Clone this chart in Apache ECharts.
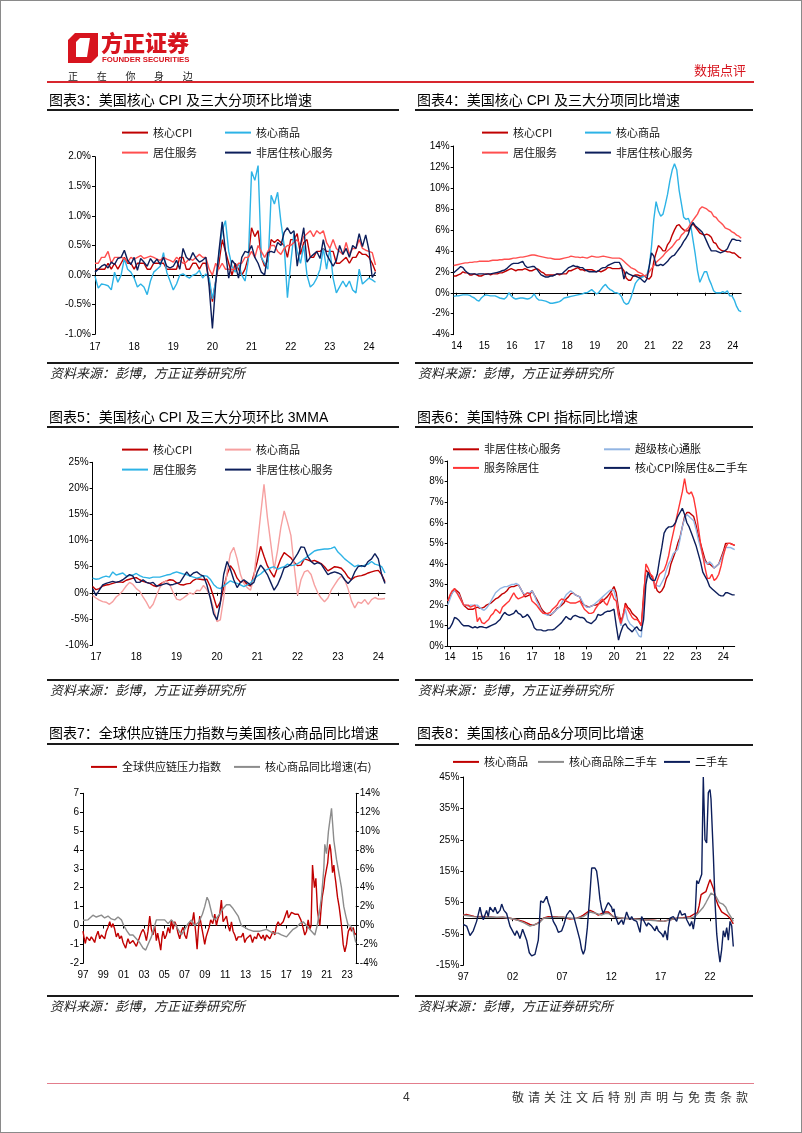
<!DOCTYPE html>
<html><head><meta charset="utf-8">
<script src="https://cdn.jsdelivr.net/npm/echarts@6/dist/echarts.min.js"></script>
<style>
html,body{margin:0;padding:0;background:#fff;}
#page{position:relative;width:802px;height:1133px;overflow:hidden;background:#fff;}
#chart{position:absolute;left:0;top:0;width:802px;height:1133px;}
.t{position:absolute;white-space:nowrap;font-family:"Liberation Sans","Noto Sans CJK SC",sans-serif;color:#000;z-index:5;}
.title{font-size:14px;line-height:18px;}
.src{font-size:13px;line-height:18px;font-style:italic;color:#222;font-family:"Noto Sans CJK SC",sans-serif;}
.ln{position:absolute;z-index:5;}
</style></head>
<body><div id="page">
<div id="chart"></div>

<!-- header -->
<svg class="ln" style="left:66px;top:31px" width="34" height="34" viewBox="0 0 34 34">
  <polygon points="2,9 9,2 32,2 32,25 25,32 2,32" fill="#D7141E"/>
  <polygon points="10,11 14,7 24,7 21,26 10,26" fill="#fff"/>
</svg>
<div class="t" style="left:101px;top:29px;font-size:22px;line-height:24px;font-weight:900;color:#D7141E;font-family:'Noto Sans CJK SC',sans-serif;">方正证券</div>
<div class="t" style="left:102px;top:55px;font-size:7.8px;line-height:9px;font-weight:bold;color:#D7141E;">FOUNDER SECURITIES</div>
<div class="t" style="left:68px;top:70px;font-size:10px;line-height:12px;letter-spacing:18.7px;color:#222;font-family:'Noto Sans CJK SC',sans-serif;">正在你身边</div>
<div class="t" style="left:694px;top:62px;font-size:13px;line-height:16px;color:#D7141E;font-family:'Noto Sans CJK SC',sans-serif;">数据点评</div>
<div class="ln" style="left:47px;top:81px;width:707px;height:1.5px;background:#D8262E;"></div>

<!-- row 1 -->
<div class="t title" style="left:49px;top:91px;">图表3：美国核心 CPI 及三大分项环比增速</div>
<div class="t title" style="left:417px;top:91px;">图表4：美国核心 CPI 及三大分项同比增速</div>
<div class="ln" style="left:47px;top:109px;width:352px;height:1.6px;background:#1a1a1a;"></div>
<div class="ln" style="left:415px;top:109px;width:338px;height:1.6px;background:#1a1a1a;"></div>
<div class="ln" style="left:47px;top:362px;width:352px;height:1.6px;background:#1a1a1a;"></div>
<div class="ln" style="left:415px;top:362px;width:338px;height:1.6px;background:#1a1a1a;"></div>
<div class="t src" style="left:50px;top:364px;">资料来源：彭博，方正证券研究所</div>
<div class="t src" style="left:418px;top:364px;">资料来源：彭博，方正证券研究所</div>

<!-- row 2 -->
<div class="t title" style="left:49px;top:408px;">图表5：美国核心 CPI 及三大分项环比 3MMA</div>
<div class="t title" style="left:417px;top:408px;">图表6：美国特殊 CPI 指标同比增速</div>
<div class="ln" style="left:47px;top:426px;width:352px;height:1.6px;background:#1a1a1a;"></div>
<div class="ln" style="left:415px;top:426px;width:338px;height:1.6px;background:#1a1a1a;"></div>
<div class="ln" style="left:47px;top:679px;width:352px;height:1.6px;background:#1a1a1a;"></div>
<div class="ln" style="left:415px;top:679px;width:338px;height:1.6px;background:#1a1a1a;"></div>
<div class="t src" style="left:50px;top:681px;">资料来源：彭博，方正证券研究所</div>
<div class="t src" style="left:418px;top:681px;">资料来源：彭博，方正证券研究所</div>

<!-- row 3 -->
<div class="t title" style="left:49px;top:724px;">图表7：全球供应链压力指数与美国核心商品同比增速</div>
<div class="t title" style="left:417px;top:724px;">图表8：美国核心商品&amp;分项同比增速</div>
<div class="ln" style="left:47px;top:743px;width:352px;height:1.6px;background:#1a1a1a;"></div>
<div class="ln" style="left:415px;top:744px;width:338px;height:1.6px;background:#1a1a1a;"></div>
<div class="ln" style="left:47px;top:995px;width:352px;height:1.6px;background:#1a1a1a;"></div>
<div class="ln" style="left:415px;top:995px;width:338px;height:1.6px;background:#1a1a1a;"></div>
<div class="t src" style="left:50px;top:997px;">资料来源：彭博，方正证券研究所</div>
<div class="t src" style="left:418px;top:997px;">资料来源：彭博，方正证券研究所</div>

<!-- footer -->
<div class="ln" style="left:47px;top:1083px;width:707px;height:1px;background:#E37D8C;"></div>
<div class="t" style="left:403px;top:1090px;font-size:12px;line-height:14px;color:#333;">4</div>
<div class="t" style="left:512px;top:1090px;font-size:12px;line-height:14px;letter-spacing:4px;color:#333;font-family:'Noto Sans CJK SC',sans-serif;">敬请关注文后特别声明与免责条款</div>
<div class="ln" style="left:0;top:0;width:802px;height:1133px;box-sizing:border-box;border:1px solid #8a8a8a;"></div>
</div>
<script>
// ---------------- data ----------------
// Chart 3: MoM %, monthly from first label position
const c3_start = 2017;
const c3_ticks = [2017,2018,2019,2020,2021,2022,2023,2024];
const c3_core = [0.1,0.1,0.1,0.1,0.2,0.1,0.2,0.1,0.2, 0.3,0.2,0.2,0.1,0.2,0.2,0.2,0.1,0.1,0.2,0.2,0.2, 0.2,0.1,0.1,0.1,0.1,0.3,0.3,0.1,0.1,0.2,0.2,0.1, 0.2,0.2,-0.1,-0.45,-0.1,0.2,0.6,0.4,0.2,0.0,0.2,0.1, 0.0,0.1,0.3,0.8,0.65,0.75,0.3,0.15,0.25,0.6,0.55,0.6, 0.55,0.5,0.3,0.6,0.6,0.7,0.35,0.55,0.6,0.3,0.3,0.4, 0.4,0.45,0.4,0.4,0.4,0.2,0.2,0.25,0.3,0.2,0.3,0.3, 0.4,0.35,0.35,0.3,0.2,0.06];
const c3_goods = [-0.02,-0.22,-0.15,-0.16,-0.18,-0.25,0.05,-0.12,0.0, 0.28,0.1,0.05,-0.05,-0.2,-0.15,-0.2,-0.33,-0.1,0.05,0.1,0.15, 0.38,0.05,-0.1,-0.25,-0.15,0.0,0.02,-0.02,-0.05,0.0,0.02,0.08, -0.05,0.02,-0.05,-0.4,-0.1,0.35,0.75,0.92,0.4,0.15,0.05,0.2, 0.0,-0.1,0.25,1.75,1.6,1.85,0.3,0.2,0.1,1.35,1.2,1.4, 0.9,0.5,-0.38,0.2,0.7,0.4,0.2,0.5,0.0,-0.2,-0.15,-0.05, 0.1,0.45,0.1,0.45,-0.05,-0.3,-0.2,-0.1,-0.2,-0.1,-0.25,-0.3, 0.1,-0.15,-0.1,-0.05,-0.08,-0.12];
const c3_shelter = [0.2,0.2,0.3,0.3,0.4,0.2,0.3,0.3,0.3, 0.28,0.22,0.3,0.27,0.3,0.33,0.28,0.3,0.32,0.3,0.27,0.25, 0.3,0.27,0.25,0.22,0.3,0.25,0.2,0.22,0.28,0.25,0.3,0.35, 0.3,0.3,0.1,0.0,0.2,0.1,0.2,0.1,0.1,0.1,0.1,0.2, 0.2,0.3,0.3,0.4,0.3,0.5,0.4,0.3,0.4,0.5,0.5,0.4, 0.35,0.45,0.5,0.5,0.55,0.6,0.5,0.65,0.7,0.75,0.65,0.75, 0.7,0.75,0.55,0.45,0.6,0.45,0.4,0.35,0.55,0.35,0.45,0.45, 0.6,0.45,0.42,0.4,0.38,0.17];
const c3_super = [0.05,0.1,0.15,0.18,0.12,0.22,0.18,0.28,0.3, 0.42,0.25,0.18,0.3,0.08,0.28,0.22,0.15,0.28,0.2,0.27,0.18, 0.3,0.15,0.12,0.15,0.25,0.1,0.45,0.3,0.25,0.38,0.28,0.22, 0.25,0.3,-0.2,-0.9,-0.15,0.4,0.9,0.4,-0.05,0.25,0.18,-0.05, 0.3,0.4,0.38,0.5,0.3,0.2,0.05,0.0,0.38,0.4,0.38,0.55, 0.5,0.72,0.8,0.7,0.75,0.15,0.5,0.8,0.22,0.3,0.35,0.4, 0.28,0.6,0.35,0.25,0.15,0.25,0.5,0.35,0.45,0.3,0.5,0.45, 0.7,0.48,0.68,0.42,-0.04,0.05];

// Chart 4: YoY %, monthly
const c4_start = 2013.89;
const c4_ticks = [2014,2015,2016,2017,2018,2019,2020,2021,2022,2023,2024];
const c4_core = [1.6,1.6,1.7,1.8,2.0,1.9,1.9,1.7,1.7,1.8,1.7,1.6, 1.6,1.7,1.8,1.8,1.7,1.8,1.8,1.8,1.9,1.9,2.0,2.1, 2.2,2.3,2.2,2.1,2.2,2.2,2.2,2.3,2.2,2.1,2.1,2.2, 2.3,2.2,2.0,1.9,1.7,1.7,1.7,1.7,1.7,1.8,1.7,1.8, 1.8,1.8,2.1,2.1,2.2,2.3,2.4,2.2,2.2,2.1,2.2,2.2, 2.2,2.1,2.0,2.1,2.0,2.1,2.2,2.4,2.4,2.3,2.3,2.3, 2.3,2.4,2.1,1.4,1.2,1.2,1.6,1.7,1.7,1.6,1.6,1.6, 1.4,1.3,1.6,3.0,3.8,4.5,4.3,4.0,4.0,4.6,4.9,5.5, 6.0,6.4,6.5,6.2,6.0,5.9,5.9,6.3,6.6,6.3,6.0,5.7, 5.6,5.5,5.6,5.5,5.3,4.8,4.7,4.3,4.1,4.0,4.0,3.9, 3.9,3.8,3.8,3.6,3.4,3.3];
const c4_goods = [-0.35,-0.3,-0.3,-0.25,-0.2,-0.2,-0.2,-0.25,-0.4,-0.5,-0.7,-0.8, -0.5,-0.3,-0.2,-0.25,-0.3,-0.3,-0.3,-0.4,-0.5,-0.55,-0.6,-0.4, 0.0,-0.3,-0.5,-0.6,-0.55,-0.5,-0.5,-0.55,-0.6,-0.55,-0.4,-0.1, -0.5,-0.7,-0.7,-0.75,-0.8,-0.9,-1.0,-1.0,-0.95,-0.9,-0.85,-0.7, -0.5,-0.45,-0.4,-0.35,-0.3,-0.25,-0.2,-0.15,-0.1,0.0,0.0,0.15, 0.3,0.1,-0.1,0.0,0.3,0.6,0.8,0.5,0.3,0.2,0.0,0.0, -0.1,-0.4,-0.9,-1.1,-1.0,-0.5,0.2,0.9,1.2,1.4,1.5,1.6, 1.7,2.5,4.4,7.0,8.7,7.8,7.3,7.5,8.4,9.4,10.7,11.7, 12.3,11.7,9.8,8.5,7.2,7.0,7.1,6.5,5.1,3.7,2.1,1.0, 1.5,2.0,2.0,1.3,0.8,0.2,0.0,0.0,0.0,0.1,0.0,0.2, -0.3,-0.3,-0.7,-1.3,-1.7,-1.8];
const c4_shelter = [2.6,2.65,2.7,2.75,2.8,2.85,2.85,2.9,2.9,2.95,2.95,3.0, 3.0,3.0,3.0,3.0,3.05,3.1,3.1,3.1,3.15,3.15,3.2,3.2, 3.2,3.25,3.3,3.3,3.35,3.4,3.4,3.45,3.5,3.55,3.6,3.6, 3.55,3.5,3.45,3.4,3.35,3.3,3.3,3.25,3.2,3.2,3.2,3.25, 3.3,3.35,3.4,3.5,3.45,3.4,3.4,3.35,3.4,3.35,3.3,3.4, 3.5,3.45,3.4,3.4,3.45,3.5,3.45,3.4,3.35,3.3,3.3,3.3, 3.3,3.2,3.0,2.8,2.6,2.4,2.3,2.2,2.0,1.9,1.8,1.6, 1.7,2.0,2.3,2.6,2.9,3.1,3.3,3.5,3.8,4.0,4.2,4.4, 4.7,5.0,5.1,5.5,5.7,6.0,6.2,6.6,6.9,7.2,7.5,8.0, 8.2,8.1,8.0,7.8,7.7,7.3,7.2,6.9,6.7,6.5,6.2,6.1, 6.0,5.8,5.7,5.5,5.4,5.2];
const c4_super = [1.9,2.1,2.3,2.5,2.4,2.1,1.9,1.8,1.8,1.8,1.75,1.8, 1.8,1.8,1.75,1.8,1.8,1.85,1.9,1.95,2.0,2.1,2.15,2.3, 2.5,2.7,2.8,2.8,2.8,2.9,3.0,2.6,2.4,2.45,2.5,2.5, 2.3,2.0,1.7,1.6,1.5,1.5,1.6,1.6,1.7,1.8,1.8,1.8, 2.0,2.2,2.4,2.5,2.6,2.5,2.5,2.4,2.4,2.2,2.1,2.0, 2.0,2.0,2.0,2.1,2.3,2.4,2.4,2.6,2.7,2.8,2.9,2.9, 2.9,2.5,1.3,2.0,1.8,1.7,1.6,1.6,1.5,1.4,1.2,1.0, 1.3,2.5,3.8,3.5,2.6,2.6,2.7,2.6,2.8,3.0,3.3,3.5, 3.6,3.9,4.2,4.5,4.9,5.2,5.6,6.3,6.7,6.4,6.2,6.0, 5.8,5.4,4.9,4.4,4.0,4.0,4.0,3.9,3.8,3.9,4.0,4.2, 4.7,5.1,5.1,5.0,5.0,4.9];

// Chart 5: 3MMA annualised %, monthly
const c5_start = 2016.917;
const c5_ticks = [2017,2018,2019,2020,2021,2022,2023,2024];
const c5_core = [1.2,0.6,0.8,1.3,1.5,1.6,1.8,2.0,2.1,2.0,2.4,2.6, 2.8,2.9,2.5,2.2,2.0,1.8,1.4,1.2,1.6,2.0,2.3,2.5, 2.4,1.9,1.6,1.5,1.7,1.8,2.4,2.7,2.6,2.5,2.6,1.2, -0.8,-2.9,-1.8,1.0,3.5,5.2,4.3,2.8,2.0,2.3,1.6,1.3, 3.5,6.0,8.9,7.0,5.2,4.0,3.0,4.8,6.5,7.7,7.2,6.7, 5.8,5.2,5.3,6.5,6.3,6.0,6.2,5.9,5.6,5.0,4.2,4.6, 5.0,4.9,4.7,4.0,3.0,2.5,3.0,3.2,3.3,3.5,3.8,4.0, 4.2,4.3,3.5,2.1];
const c5_goods = [-0.5,-1.0,-1.4,-1.7,-1.8,-2.2,-1.7,-0.8,-0.3,0.4,1.3,2.0, 1.6,0.8,0.3,-0.8,-1.8,-3.0,-2.2,-0.5,1.0,2.0,2.3,1.5, 0.0,-1.2,-1.4,-1.0,-0.5,0.0,-0.3,0.5,0.4,1.4,0.6,-0.8, -3.0,-5.5,-5.2,-1.0,4.0,7.5,8.7,6.5,3.5,1.8,1.0,0.5, 3.0,9.0,15.0,20.8,14.5,9.5,4.5,8.0,12.5,15.7,13.5,11.0, 5.0,-0.5,2.5,4.0,4.3,3.5,1.5,0.0,-1.0,-1.7,-1.0,0.5, 1.5,2.5,3.2,2.5,0.8,-1.5,-2.9,-1.8,-2.0,-1.3,-2.2,-1.3, -0.9,-1.2,-1.2,-1.1];
const c5_shelter = [2.8,2.6,2.7,3.0,3.2,3.0,4.0,3.4,3.6,3.8,3.2,3.3, 3.4,3.7,3.3,3.0,2.9,2.8,3.0,3.0,3.0,3.2,3.4,3.5, 3.8,4.0,3.8,3.6,3.5,3.2,3.0,2.8,3.0,3.3,3.2,2.6, 1.6,1.0,0.8,1.3,1.8,2.3,2.0,1.8,1.5,1.2,1.5,1.9, 2.6,3.2,3.6,4.2,4.5,4.8,5.0,4.5,4.8,5.0,5.5,5.2, 5.3,5.6,6.0,6.5,7.0,7.5,8.0,8.2,8.3,8.4,8.4,8.5, 8.8,7.8,7.2,6.5,6.0,5.5,5.0,5.3,5.0,5.3,5.5,6.0, 5.5,5.3,5.0,3.8];
const c5_super = [0.8,-0.5,0.5,1.5,1.8,2.0,2.2,2.0,2.2,2.5,3.0,3.5, 3.2,2.0,2.0,2.5,2.0,1.8,2.0,1.3,1.4,1.6,1.8,1.5, 1.6,1.8,2.0,3.0,4.0,3.2,3.8,4.0,3.5,3.2,1.5,-1.0, -4.0,-5.2,-2.0,3.5,6.0,4.5,2.5,1.0,2.0,2.5,2.0,1.5, 2.0,4.0,5.3,4.5,3.5,2.0,0.5,1.5,3.0,4.8,5.0,5.5, 6.5,7.5,8.8,8.7,7.0,6.0,5.5,5.8,5.5,4.5,3.5,3.8, 4.0,3.8,3.5,2.5,1.8,2.5,4.0,5.0,5.2,5.0,6.0,6.5, 7.5,6.5,3.5,1.8];

// Chart 6: YoY %, monthly
const c6_start = 2013.917;
const c6_ticks = [2014,2015,2016,2017,2018,2019,2020,2021,2022,2023,2024];
const c6_nonShelter = [2.2,2.4,2.6,2.8,2.7,2.6, 2.3,2.0,1.9,1.8,1.8,1.8, 1.85,1.9,1.85,1.85,1.9,2.0, 2.05,2.1,2.2,2.3,2.35,2.45, 2.55,2.6,2.7,2.85,2.9,2.9, 2.95,3.0,2.8,2.6,2.4,2.45, 2.5,2.7,2.5,2.3,2.1,1.85, 1.7,1.6,1.55,1.5,1.6,1.7, 1.85,1.9,2.0,2.1,2.3,2.4, 2.55,2.6,2.5,2.45,2.4,2.1, 2.0,1.95,1.9,1.95,2.0,2.0, 2.05,2.1,2.2,2.3,2.4,2.55, 2.7,2.9,2.6,1.8,1.2,1.5, 2.1,1.9,1.8,1.6,1.5,1.4, 1.2,1.0,2.5,3.7,3.6,3.5, 3.3,3.0,2.7,2.6,2.7,2.9, 3.3,3.5,4.0,4.3,4.6,5.0, 5.3,5.8,6.3,6.5,6.5,6.4, 6.3,5.9,5.4,5.0,4.6,4.2, 4.0,4.0,3.9,3.8,3.9,4.0, 4.3,4.6,5.0,5.0,5.0,4.95,4.9];
const c6_supercore = [2.0,2.3,2.6,2.7,2.6,2.5, 2.2,2.0,2.0,1.95,2.0,2.0, 2.0,2.0,1.9,1.8,1.75,1.85, 2.0,2.2,2.4,2.6,2.7,2.8, 2.85,2.9,2.9,2.95,3.0,3.0, 3.05,3.0,2.8,2.6,2.5,2.6, 2.6,2.7,2.5,2.2,2.0,1.75, 1.6,1.55,1.5,1.55,1.6,1.7, 1.8,1.9,2.1,2.3,2.5,2.6, 2.7,2.6,2.5,2.45,2.4,2.2, 2.0,1.9,1.9,1.95,2.0,2.1, 2.2,2.3,2.4,2.5,2.6,2.7, 2.75,2.7,2.3,1.5,1.0,1.4, 1.8,1.3,1.1,1.0,0.9,0.7, 0.5,0.45,2.0,3.4,3.4,3.3, 3.2,3.0,2.95,2.9,3.1,3.3, 3.7,4.0,4.2,4.5,4.6,4.7, 5.2,5.8,6.2,6.4,6.3,6.2, 6.1,5.7,5.2,4.8,4.4,4.1, 4.0,4.1,4.0,3.8,3.9,4.0, 4.2,4.5,4.8,4.8,4.8,4.75,4.7];
const c6_servExShelter = [2.2,2.5,2.7,2.8,2.6,2.4, 2.2,2.0,2.0,2.0,1.9,1.95, 2.0,1.2,1.4,1.15,1.1,1.2, 1.3,1.5,1.6,1.8,1.7,1.6, 1.9,2.0,2.1,2.2,2.4,2.6, 2.4,2.3,2.35,2.4,2.5,2.6, 2.55,2.2,2.1,2.0,1.85,1.7, 1.6,1.6,1.6,1.65,1.8,1.9, 2.0,2.2,2.3,2.25,2.2,2.15, 2.1,2.1,2.1,2.15,2.2,2.0, 1.8,1.7,1.6,1.6,1.65,1.85, 2.0,2.2,2.3,2.1,2.0,2.3, 2.6,2.3,2.2,1.5,1.1,1.5, 2.0,1.8,1.6,1.4,1.3,1.3, 1.2,1.0,2.2,4.0,3.8,3.5, 3.4,2.8,3.2,3.5,3.6,3.7, 4.0,4.4,5.0,5.5,6.0,6.5, 7.0,7.5,8.15,7.5,7.4,7.5, 7.2,6.6,5.8,5.0,4.4,3.8, 3.3,3.3,3.5,3.2,3.3,3.5, 3.9,4.4,4.8,5.0,5.0,4.95,4.9];
const c6_coreExShelterCars = [0.85,0.9,1.1,1.4,1.35,1.25, 1.1,1.0,1.0,1.0,0.95,0.9, 0.95,0.9,0.95,0.95,0.92,0.9, 0.95,1.0,1.05,1.1,1.2,1.3, 1.5,1.65,1.55,1.5,1.55,1.6, 1.75,1.6,1.55,1.4,1.45,1.55, 1.4,1.2,0.9,0.8,0.8,0.8, 0.75,0.75,0.8,0.8,0.8,0.85, 0.95,1.05,1.15,1.3,1.45,1.35, 1.3,1.45,1.5,1.45,1.4,1.4, 1.35,1.2,1.15,1.1,1.2,1.3, 1.55,1.5,1.55,1.65,1.7,1.7, 1.75,1.8,1.0,0.3,0.7,1.0, 1.1,0.9,0.8,0.7,0.85,0.95, 0.8,0.75,1.3,3.0,3.6,3.3, 3.2,3.2,3.5,4.2,4.8,5.5, 5.7,5.8,5.8,5.85,6.0,6.3, 6.5,6.7,6.4,6.0,5.8,5.5, 5.2,4.9,4.5,4.1,3.6,3.4, 3.2,2.9,2.8,2.7,2.6,2.5, 2.45,2.45,2.6,2.6,2.55,2.5,2.5];

// Chart 7: [year, value] — GSCPI (left, std dev) and core goods YoY (right, %)
const c7_ticks = [1997,1999,2001,2003,2005,2007,2009,2011,2013,2015,2017,2019,2021,2023];
const c7_gscpi = [[1997.00,-0.3],[1997.12,-0.7],[1997.23,-0.95],[1997.36,-0.6],[1997.49,-0.5],[1997.65,-0.8],[1997.82,-0.6],[1998.0,-0.75],[1998.15,-0.9],[1998.3,-0.55],[1998.48,-0.3],[1998.65,-0.7],[1998.81,-0.5],[1998.97,-0.45],[1999.13,-0.7],[1999.30,-0.3],[1999.46,-0.1],[1999.63,0.2],[1999.8,-0.1],[1999.95,0.1],[2000.12,-0.2],[2000.28,-0.6],[2000.45,-0.4],[2000.61,-0.7],[2000.78,-0.55],[2000.94,-0.9],[2001.07,-0.8],[2001.20,-1.2],[2001.32,-0.9],[2001.43,-0.7],[2001.6,-0.95],[2001.76,-1.0],[2001.92,-0.8],[2002.09,-0.9],[2002.25,-1.1],[2002.42,-0.85],[2002.58,-0.6],[2002.75,-0.35],[2002.91,-0.2],[2003.07,-0.4],[2003.24,-0.8],[2003.4,-0.3],[2003.57,0.5],[2003.73,-0.2],[2003.89,-0.5],[2004.06,0.0],[2004.22,-0.8],[2004.35,-0.4],[2004.45,-0.5],[2004.65,-1.3],[2004.78,-0.6],[2004.88,-0.3],[2005.05,-0.7],[2005.21,-0.5],[2005.38,-0.1],[2005.54,-0.4],[2005.70,0.3],[2005.86,-0.2],[2006.03,0.2],[2006.19,0.0],[2006.35,-0.4],[2006.52,-0.7],[2006.68,-0.3],[2006.85,-0.1],[2007.01,-0.5],[2007.18,-0.7],[2007.34,-0.2],[2007.51,0.2],[2007.7,0.0],[2007.90,0.7],[2008.10,-0.4],[2008.23,-1.25],[2008.36,-0.2],[2008.49,0.5],[2008.65,0.0],[2008.82,-0.5],[2008.98,-1.0],[2009.12,-0.6],[2009.25,-0.5],[2009.41,-0.1],[2009.57,0.3],[2009.77,0.1],[2009.97,0.6],[2010.13,0.0],[2010.3,0.4],[2010.46,0.6],[2010.62,1.35],[2010.79,0.2],[2010.95,0.1],[2011.12,0.5],[2011.28,0.0],[2011.45,-0.3],[2011.61,0.2],[2011.77,-0.3],[2011.94,-0.5],[2012.10,-0.8],[2012.27,-0.6],[2012.43,-0.5],[2012.59,-0.6],[2012.76,-0.4],[2012.92,-0.9],[2013.08,-0.7],[2013.25,-0.6],[2013.48,-0.5],[2013.68,-0.9],[2013.87,-0.6],[2014.07,-0.7],[2014.24,-0.4],[2014.40,-0.5],[2014.56,-0.7],[2014.73,-0.5],[2014.9,-0.8],[2015.06,-0.5],[2015.22,-0.6],[2015.39,-0.7],[2015.55,-0.5],[2015.71,-0.3],[2015.88,-0.5],[2016.04,0.0],[2016.21,0.2],[2016.37,0.0],[2016.53,-0.1],[2016.70,0.2],[2016.87,0.1],[2017.09,0.8],[2017.22,0.4],[2017.35,0.5],[2017.52,0.7],[2017.68,0.6],[2017.85,0.6],[2018.01,0.55],[2018.18,0.6],[2018.31,0.5],[2018.44,0.3],[2018.56,0.1],[2018.67,0.0],[2018.83,-0.5],[2019.00,-0.3],[2019.16,0.3],[2019.32,-0.2],[2019.45,0.0],[2019.59,3.2],[2019.68,2.6],[2019.78,2.0],[2019.92,2.5],[2020.08,0.8],[2020.2,0.3],[2020.31,0.0],[2020.42,0.8],[2020.54,1.5],[2020.70,2.0],[2020.80,2.5],[2020.97,3.0],[2021.08,3.3],[2021.16,3.8],[2021.29,4.3],[2021.38,4.0],[2021.46,3.5],[2021.56,2.8],[2021.69,3.2],[2021.78,2.7],[2021.88,2.3],[2022.05,1.5],[2022.21,1.0],[2022.33,0.5],[2022.44,0.0],[2022.53,-0.5],[2022.61,-1.0],[2022.77,-1.4],[2022.94,-1.0],[2023.03,-0.6],[2023.12,-0.3],[2023.20,-0.2],[2023.32,-0.1],[2023.43,-0.3],[2023.59,-0.1],[2023.68,-0.3],[2023.76,-0.5],[2023.85,-0.4]];
const c7_goods = [[1997.00,0.56],[1997.49,0.6],[1997.98,1.1],[1998.31,0.9],[1998.81,1.1],[1999.13,0.8],[1999.46,1.0],[1999.79,0.7],[2000.12,0.6],[2000.45,0.9],[2000.78,0.6],[2001.01,0.0],[2001.33,-0.6],[2001.60,-1.0],[2001.92,-1.0],[2002.25,-1.4],[2002.58,-1.8],[2002.91,-2.4],[2003.17,-2.6],[2003.40,-2.0],[2003.73,-1.2],[2004.06,0.0],[2004.22,0.6],[2004.62,0.6],[2005.04,0.6],[2005.37,0.2],[2005.70,0.6],[2006.03,0.2],[2006.36,-0.4],[2006.68,-1.0],[2007.01,-0.4],[2007.34,0.2],[2007.67,0.6],[2008.00,0.0],[2008.42,0.4],[2008.75,1.2],[2008.98,2.0],[2009.21,3.0],[2009.38,2.6],[2009.74,1.0],[2009.97,0.6],[2010.30,1.0],[2010.79,1.8],[2011.12,2.2],[2011.45,2.2],[2011.77,1.8],[2012.27,1.0],[2012.59,0.0],[2012.92,-0.2],[2013.25,-0.4],[2013.74,-0.6],[2014.40,-0.6],[2015.06,-0.4],[2015.71,-0.8],[2016.21,-0.8],[2016.53,-1.0],[2017.03,-1.2],[2017.35,-0.8],[2017.68,-0.4],[2018.01,-0.2],[2018.34,0.2],[2018.67,0.4],[2019.00,0.0],[2019.49,-0.6],[2019.82,-1.0],[2020.05,0.0],[2020.24,1.2],[2020.47,3.0],[2020.70,6.0],[2020.80,8.6],[2020.97,7.6],[2021.16,10.0],[2021.46,12.4],[2021.69,9.0],[2021.95,7.0],[2022.12,6.8],[2022.44,4.0],[2022.67,2.0],[2022.87,1.0],[2023.10,0.0],[2023.33,0.0],[2023.59,-0.6],[2023.85,-1.8]];

// Chart 8: [year, YoY %]
const c8_ticks = [1997,2002,2007,2012,2017,2022];
const c8_core = [[1997.0,1.0],[1997.3,1.2],[1997.7,0.9],[1998.1,0.6],[1998.5,0.5],[1999.0,0.6],[1999.36,0.5],[1999.8,0.4],[2000.38,0.2],[2001.0,0.3],[2001.73,0.0],[2002.41,-0.5],[2003.08,-1.0],[2003.76,-2.0],[2004.09,-2.3],[2004.6,-1.5],[2005.11,0.0],[2005.6,0.5],[2006.12,0.5],[2006.6,0.4],[2007.14,0.3],[2007.81,-0.3],[2008.49,0.0],[2008.9,0.5],[2009.16,1.0],[2009.84,2.5],[2010.18,2.0],[2010.68,1.0],[2011.36,2.0],[2011.7,2.0],[2012.2,0.5],[2012.7,0.2],[2013.22,0.0],[2014.2,-0.2],[2015.24,-0.5],[2016.3,-0.6],[2017.27,-1.0],[2017.95,-0.5],[2018.62,0.0],[2019.3,0.2],[2019.97,0.5],[2020.48,1.5],[2020.72,1.7],[2020.9,4.0],[2021.1,7.5],[2021.32,8.0],[2021.59,8.5],[2021.8,10.5],[2022.0,12.3],[2022.34,9.5],[2022.61,6.0],[2022.84,4.0],[2023.18,2.0],[2023.69,1.0],[2024.03,0.0],[2024.36,-1.8]];
const c8_exUsed = [[1997.0,1.0],[1997.5,0.8],[1998.0,0.5],[1998.5,0.4],[1999.0,0.3],[1999.5,0.4],[2000.4,0.3],[2001.0,0.3],[2001.73,0.0],[2002.41,-0.5],[2003.16,-1.5],[2003.76,-2.5],[2004.26,-2.0],[2004.7,-1.5],[2005.11,0.0],[2006.12,0.3],[2007.1,0.3],[2008.0,0.0],[2008.6,0.0],[2009.16,0.5],[2009.84,2.0],[2010.5,1.5],[2011.0,1.0],[2011.36,1.5],[2011.7,1.5],[2012.2,0.5],[2013.22,0.0],[2015.24,-0.5],[2016.6,-0.8],[2017.27,-1.0],[2017.95,-0.5],[2018.62,0.0],[2019.97,0.0],[2020.48,0.5],[2020.9,2.0],[2021.32,3.5],[2021.59,5.0],[2022.1,8.0],[2022.2,8.5],[2022.6,7.0],[2022.94,5.0],[2023.3,4.5],[2023.6,3.5],[2023.8,2.0],[2024.1,0.5],[2024.36,-1.0]];
const c8_used = [[1997.00,-2],[1997.34,-2.5],[1997.68,-5.5],[1998.01,-4],[1998.18,-4.5],[1998.35,-1],[1998.69,3.5],[1998.86,1],[1999.03,-0.5],[1999.36,2.5],[1999.53,0.5],[1999.70,3.5],[2000.04,2],[2000.21,3.5],[2000.45,1.5],[2000.72,2.5],[2000.89,4.5],[2001.12,2.5],[2001.39,1.5],[2001.56,-0.5],[2001.73,-2.5],[2002.07,-4.5],[2002.24,-5.5],[2002.41,-4],[2002.57,-5],[2002.74,-6.5],[2003.01,-3.5],[2003.18,-3.5],[2003.42,-7],[2003.69,-11],[2003.93,-12],[2004.26,-11.5],[2004.43,-12],[2004.60,-7],[2004.84,5.5],[2005.11,5],[2005.28,6],[2005.45,7],[2005.61,5],[2005.78,3.5],[2005.95,1],[2006.12,-1],[2006.39,-2.5],[2006.63,-4.5],[2006.97,-4],[2007.20,-2],[2007.47,1],[2007.81,2.5],[2008.15,1],[2008.49,-3],[2008.82,-7],[2008.99,-10],[2009.16,-11.5],[2009.33,-10],[2009.57,-3],[2009.84,8],[2010.01,16],[2010.18,15.5],[2010.34,16],[2010.51,15],[2010.68,11],[2010.85,6],[2011.02,3],[2011.19,1.5],[2011.36,2],[2011.53,4],[2011.70,5],[2011.86,4.5],[2012.03,3.5],[2012.14,2],[2012.27,3],[2012.37,1],[2012.54,-0.5],[2012.71,-2],[2012.88,-1.5],[2013.05,-0.5],[2013.22,-2],[2013.55,2],[2013.72,0.5],[2013.89,-0.5],[2014.06,0.5],[2014.23,-0.5],[2014.40,0],[2014.57,-1],[2014.91,-4.5],[2015.07,0.5],[2015.24,-0.5],[2015.41,-0.5],[2015.58,-2.5],[2015.75,-1.5],[2015.92,-1.5],[2016.09,-2.5],[2016.26,-3],[2016.43,-4],[2016.59,-2.5],[2016.76,-4],[2017.10,-5],[2017.27,-6],[2017.44,-4],[2017.54,-5],[2017.68,-7],[2017.78,-3],[2017.95,0],[2018.11,-0.5],[2018.28,0.5],[2018.45,0.5],[2018.62,-1],[2018.79,1],[2018.96,2.5],[2019.13,1],[2019.30,0.5],[2019.47,1.5],[2019.64,-0.5],[2019.80,0],[2019.97,-2.5],[2020.14,-1],[2020.31,-3.5],[2020.48,0],[2020.65,12],[2020.82,11],[2020.99,10.5],[2021.16,14],[2021.32,45],[2021.49,25],[2021.66,24],[2021.83,40],[2022.00,41],[2022.10,38],[2022.34,20],[2022.51,5],[2022.68,-5],[2022.84,-10],[2023.01,-14],[2023.18,-10],[2023.35,-4],[2023.52,-6],[2023.69,-3],[2023.86,-7],[2024.03,-1],[2024.20,-2.5],[2024.36,-9]];

// ---------------- build ----------------
const FN = '"Liberation Sans", Arial, sans-serif';
const FC = '"Noto Sans CJK SC", sans-serif';
const monthly = (start, vals) => vals.map((v, i) => [start + i / 12, v]);
const COL = {dred:'#C00000', cyan:'#2DB3E6', red:'#FF4F4F', navy:'#0C1E5B', pink:'#F6A0A0', lblue:'#92B5E3', sred:'#FF3535', gray:'#8C8C8C'};
const pct1 = v => v.toFixed(1) + '%';
const pct0 = v => v + '%';

const charts = [
  {grid:{left:95, top:156.7, width:280.5, height:177.6}, xMin:c3_start, xMax:c3_start + 86/12, ticks:c3_ticks, zero:true, lm:8,
   y:[{min:-1, max:2, interval:0.5, fmt:pct1}],
   series:[['核心CPI', monthly(c3_start,c3_core), COL.dred], ['核心商品', monthly(c3_start,c3_goods), COL.cyan], ['居住服务', monthly(c3_start,c3_shelter), COL.red], ['非居住核心服务', monthly(c3_start,c3_super), COL.navy]],
   legend:[[121,134],[224,134],[121,154],[224,154]]},
  {grid:{left:453.7, top:146, width:287.5, height:188.7}, xMin:c4_start, xMax:c4_start + 125/12, ticks:c4_ticks, zero:true, lm:7,
   y:[{min:-4, max:14, interval:2, fmt:pct0}],
   series:[['核心CPI', monthly(c4_start,c4_core), COL.dred], ['核心商品', monthly(c4_start,c4_goods), COL.cyan], ['居住服务', monthly(c4_start,c4_shelter), COL.red], ['非居住核心服务', monthly(c4_start,c4_super), COL.navy]],
   legend:[[481,134],[584,134],[481,154],[584,154]]},
  {grid:{left:92.6, top:462.3, width:292.4, height:182.7}, xMin:c5_start, xMax:c5_start + 87/12, ticks:c5_ticks, zero:true, lm:7,
   y:[{min:-10, max:25, interval:5, fmt:pct0}],
   series:[['核心CPI', monthly(c5_start,c5_core), COL.dred], ['核心商品', monthly(c5_start,c5_goods), COL.pink], ['居住服务', monthly(c5_start,c5_shelter), COL.cyan], ['非居住核心服务', monthly(c5_start,c5_super), COL.navy]],
   legend:[[121,451],[224,451],[121,471],[224,471]]},
  {grid:{left:447.7, top:461, width:287, height:185.3}, xMin:c6_start, xMax:c6_start + 126/12, ticks:c6_ticks, zero:false, lm:6,
   y:[{min:0, max:9, interval:1, fmt:pct0}],
   series:[['非居住核心服务', monthly(c6_start,c6_nonShelter), COL.dred], ['超级核心通胀', monthly(c6_start,c6_supercore), COL.lblue], ['服务除居住', monthly(c6_start,c6_servExShelter), COL.sred], ['核心CPI除居住&二手车', monthly(c6_start,c6_coreExShelterCars), COL.navy]],
   legend:[[452,450.7],[603,450.7],[452,469.3],[603,469.3]]},
  {grid:{left:83, top:793.3, width:272.8, height:170}, xMin:1997, xMax:2023.85, ticks:c7_ticks, zero:true, lm:7,
   y:[{min:-2, max:7, interval:1, fmt:v => String(v)}, {min:-4, max:14, interval:2, fmt:pct0}],
   series:[['全球供应链压力指数', c7_gscpi, COL.dred, 0], ['核心商品同比增速(右)', c7_goods, COL.gray, 1]],
   legend:[[90,768.3],[233,768.3]]},
  {grid:{left:463.3, top:777, width:270, height:188.3}, xMin:1997, xMax:2024.36, ticks:c8_ticks, zero:true, lm:7,
   y:[{min:-15, max:45, interval:10, fmt:pct0}],
   series:[['核心商品', c8_core, COL.dred], ['核心商品除二手车', c8_exUsed, COL.gray], ['二手车', c8_used, COL.navy]],
   legend:[[452,763.3],[537,763.3],[663,763.3]]}
];

const option = {animation:false, textStyle:{fontFamily:FN}, grid:[], xAxis:[], yAxis:[], series:[], legend:[]};
const axLine = {color:'#000', width:1};
charts.forEach((c, gi) => {
  option.grid.push(Object.assign({show:false}, c.grid));
  const xi = option.xAxis.length;
  option.xAxis.push({type:'value', gridIndex:gi, min:c.xMin, max:c.xMax, position:'bottom',
    axisLine:{show:!c.zero, onZero:false, lineStyle:axLine},
    axisTick:{show:!c.zero, customValues:c.ticks, length:3, lineStyle:axLine},
    axisLabel:{customValues:c.ticks, formatter:v => String(Math.round(v)).slice(2), fontSize:10, color:'#000', margin:c.lm, fontFamily:FN},
    splitLine:{show:false}});
  if (c.zero) {
    option.xAxis.push({type:'value', gridIndex:gi, min:c.xMin, max:c.xMax, position:'bottom',
      axisLine:{show:true, onZero:true, lineStyle:axLine},
      axisTick:{show:true, customValues:c.ticks, length:3, lineStyle:axLine},
      axisLabel:{show:false}, splitLine:{show:false}});
  }
  const yi0 = option.yAxis.length;
  c.y.forEach((y, k) => option.yAxis.push({type:'value', gridIndex:gi, min:y.min, max:y.max, interval:y.interval, position:k ? 'right' : 'left',
    axisLine:{show:true, onZero:false, lineStyle:axLine}, axisTick:{show:true, length:3, lineStyle:axLine},
    axisLabel:{formatter:y.fmt, fontSize:10, color:'#000', margin:4, fontFamily:FN}, splitLine:{show:false}}));
  c.series.forEach((s, k) => {
    const name = s[0] + '\u200b'.repeat(gi + 1);
    option.series.push({type:'line', name, xAxisIndex:xi, yAxisIndex:yi0 + (s[3] || 0), data:s[1], symbol:'none', showSymbol:false,
      color:s[2], lineStyle:{color:s[2], width:1.4}, z:2 + k, silent:true});
    const p = c.legend[k];
    option.legend.push({data:[name], left:p[0], top:p[1] - 7, padding:0, itemGap:0, itemWidth:26, itemHeight:14, selectedMode:false,
      itemStyle:{opacity:0}, lineStyle:{width:2},
      formatter:n => n.replace(/\u200b/g, ''), textStyle:{fontSize:11, color:'#111', fontFamily:FC}});
  });
});

const chart = echarts.init(document.getElementById('chart'), null, {renderer:'canvas'});
chart.setOption(option);
</script>
</body></html>
